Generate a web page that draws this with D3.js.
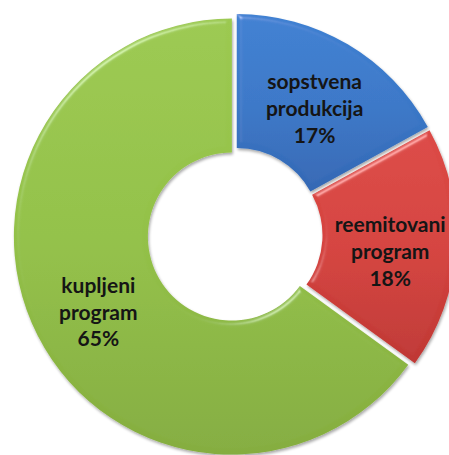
<!DOCTYPE html>
<html>
<head>
<meta charset="utf-8">
<script src="https://cdn.jsdelivr.net/npm/d3@7"></script>
<style>
  html, body { margin: 0; padding: 0; background: #ffffff; }
  svg { display: block; }
</style>
</head>
<body>
<div id="chart"></div>
<script>
// ---- data ----
const categories = ["sopstvena produkcija", "reemitovani program", "kupljeni program"];
const labelLines = [["sopstvena", "produkcija"], ["reemitovani", "program"], ["kupljeni", "program"]];
const values = [17, 18, 65];
const colors = ["#3a78c8", "#d5423e", "#93c148"];
const colorsLight = ["#3f80d2", "#dc4a46", "#9cc951"];
const colorsDark = ["#3468b4", "#bf3834", "#85ad3f"];

// ---- layout ----
const W = 449, H = 455;
const cx = 235, cy = 235;
const outerR = 218, innerR = 84;
const explode = 3.5;

const svg = d3.select("#chart").append("svg")
  .attr("width", W).attr("height", H);

const defs = svg.append("defs");

// bevel + shadow filter
const f = defs.append("filter").attr("id", "bevel")
  .attr("x", "-10%").attr("y", "-10%").attr("width", "120%").attr("height", "120%");
f.append("feGaussianBlur").attr("in", "SourceAlpha").attr("stdDeviation", 2.5).attr("result", "blur");
const spec = f.append("feSpecularLighting").attr("in", "blur")
  .attr("surfaceScale", 3).attr("specularConstant", 0.6).attr("specularExponent", 40)
  .attr("lighting-color", "#ffffff").attr("result", "spec");
spec.append("feDistantLight").attr("azimuth", 235).attr("elevation", 40);
f.append("feComposite").attr("in", "spec").attr("in2", "SourceAlpha").attr("operator", "in").attr("result", "specOut");
f.append("feComposite").attr("in", "SourceGraphic").attr("in2", "specOut")
  .attr("operator", "arithmetic").attr("k1", 0).attr("k2", 1).attr("k3", 0.5).attr("k4", 0).attr("result", "lit");
f.append("feGaussianBlur").attr("in", "SourceAlpha").attr("stdDeviation", 1.5).attr("result", "sblur");
f.append("feOffset").attr("in", "sblur").attr("dx", 1).attr("dy", 2).attr("result", "soff");
f.append("feComponentTransfer").attr("in", "soff").attr("result", "sh")
  .append("feFuncA").attr("type", "linear").attr("slope", 0.35);
const m = f.append("feMerge");
m.append("feMergeNode").attr("in", "sh");
m.append("feMergeNode").attr("in", "lit");

// gradients
colors.forEach((c, i) => {
  const g = defs.append("linearGradient").attr("id", "grad" + i)
    .attr("x1", 0).attr("y1", 0).attr("x2", 0).attr("y2", 1);
  g.append("stop").attr("offset", "0%").attr("stop-color", colorsLight[i]);
  g.append("stop").attr("offset", "50%").attr("stop-color", c);
  g.append("stop").attr("offset", "100%").attr("stop-color", colorsDark[i]);
});

const pie = d3.pie().sort(null).value(d => d)
  .startAngle(0).endAngle(2 * Math.PI);
const arcs = pie(values);

const arc = d3.arc().innerRadius(innerR).outerRadius(outerR);
const labelArc = d3.arc().innerRadius((innerR + outerR) / 2).outerRadius((innerR + outerR) / 2);

const g = svg.append("g").attr("transform", `translate(${cx},${cy})`);

const slice = g.selectAll("g.slice").data(arcs).join("g")
  .attr("class", "slice")
  .attr("transform", d => {
    const a = (d.startAngle + d.endAngle) / 2;
    return `translate(${explode * Math.sin(a)},${-explode * Math.cos(a)})`;
  });

slice.append("path")
  .attr("d", arc)
  .attr("fill", (d, i) => `url(#grad${i})`)
  .attr("filter", "url(#bevel)");

const fontSize = 21, lineH = 27;
slice.append("text")
  .attr("transform", d => {
    const [x, y] = labelArc.centroid(d);
    return `translate(${x + 1},${y + 7})`;
  })
  .attr("text-anchor", "middle")
  .attr("font-family", "Lato, 'Open Sans', sans-serif")
  .attr("font-weight", "bold")
  .attr("font-size", fontSize)
  .attr("fill", "#151515")
  .each(function(d, i) {
    const lines = labelLines[i].concat([values[i] + "%"]);
    const t = d3.select(this);
    lines.forEach((ln, k) => {
      t.append("tspan").attr("x", 0)
        .attr("y", (k - (lines.length - 1) / 2) * lineH)
        .attr("dy", "0.35em")
        .text(ln);
    });
  });
</script>
</body>
</html>
